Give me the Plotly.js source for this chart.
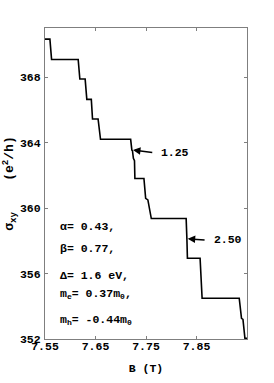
<!DOCTYPE html>
<html>
<head>
<meta charset="utf-8">
<script src="https://cdn.plot.ly/plotly-3.0.1.min.js"></script>
<style>html,body{margin:0;padding:0;background:#fff}#chart{width:274px;height:383px}</style>
</head>
<body>
<div id="chart"></div>
<script>
// Hall conductivity staircase
const fieldB = [7.5500, 7.5597, 7.5630, 7.6157, 7.6190, 7.6295, 7.6328, 7.6417, 7.6441, 7.6551, 7.6599,
                7.7196, 7.7220, 7.7232, 7.7250, 7.7262, 7.7272, 7.7280, 7.7459, 7.7493, 7.7537, 7.7605,
                7.8295, 7.8310, 7.8320, 7.8571, 7.8611, 7.9346, 7.9391, 7.9420, 7.9431, 7.9459, 7.9504];
const sigmaXY = [370.32, 370.32, 369.08, 369.08, 367.88, 367.88, 366.64, 366.64, 365.44, 365.44, 364.20,
                 364.20, 363.54, 363.50, 363.04, 363.00, 362.90, 361.81, 361.81, 360.59, 360.50, 359.36,
                 359.36, 358.10, 356.93, 356.93, 354.49, 354.49, 353.26, 353.20, 352.90, 352.04, 352.04];
const xTicks = [7.55, 7.65, 7.75, 7.85];
const yTicks = [352, 356, 360, 364, 368];
const stepLabels = ['1.25', '2.50'];
const stepArrowTip = [[7.7242, 363.54], [7.8326, 358.12]];
const stepArrowTail = [7.7624, 7.8660];
const stepLabelY = [363.40, 358.05];
const paramLines = ['α= 0.43,', 'β= 0.77,', 'Δ= 1.6 eV,',
                    'm<sub>e</sub>= 0.37m<sub>0</sub>,', 'm<sub>h</sub>= -0.44m<sub>0</sub>'];
const paramY = [358.86, 357.50, 355.88, 354.76, 353.18];

const FONT = 'Liberation Mono, DejaVu Sans Mono, monospace';
const FS = 11.5;
const annotations = [];
for (let i = 0; i < stepLabels.length; i++) {
  annotations.push({x: stepArrowTip[i][0], y: stepArrowTip[i][1], xref: 'x', yref: 'y',
    ax: stepArrowTail[i], ay: stepLabelY[i], axref: 'x', ayref: 'y',
    xanchor: 'left', yanchor: 'middle',
    text: '\u00A0' + stepLabels[i], showarrow: true, arrowhead: 2, arrowsize: 1, arrowwidth: 1.5,
    arrowcolor: '#000', font: {family: FONT, size: FS, color: '#000', weight: 'bold'}});
}
for (let i = 0; i < paramLines.length; i++) {
  annotations.push({x: 7.5756, y: paramY[i], xref: 'x', yref: 'y', xanchor: 'left',
    text: paramLines[i], showarrow: false, font: {family: FONT, size: FS, color: '#000', weight: 'bold'}});
}

const trace = {x: fieldB, y: sigmaXY, type: 'scatter', mode: 'lines',
  line: {color: '#000', width: 1.6}, hoverinfo: 'skip'};

const axisCommon = {showgrid: false, zeroline: false, showline: true, mirror: 'ticks',
  linecolor: '#7f7f7f', linewidth: 1, ticks: 'inside', ticklen: 3, tickcolor: '#7f7f7f',
  tickfont: {family: FONT, size: FS, color: '#000', weight: 'bold'}};

const layout = {
  width: 274, height: 383,
  margin: {l: 45, r: 27, t: 28, b: 44},
  paper_bgcolor: '#fff', plot_bgcolor: '#fff', showlegend: false,
  xaxis: Object.assign({}, axisCommon, {range: [7.55, 7.95], tickvals: xTicks,
    ticktext: xTicks.map(v => v.toFixed(2)), ticklabelstandoff: -4,
    title: {text: 'B (T)', font: {family: FONT, size: FS, color: '#000', weight: 'bold'}, standoff: 12}}),
  yaxis: Object.assign({}, axisCommon, {range: [352, 371], tickvals: yTicks,
    ticktext: yTicks.map(String), ticklabelstandoff: 1,
    title: {text: 'σ<sub>xy</sub>\u00A0\u00A0\u00A0\u00A0(e<sup>2</sup>/h)', font: {family: FONT, size: 13, color: '#000', weight: 'bold'}, standoff: 3}}),
  annotations: annotations
};

Plotly.newPlot('chart', [trace], layout, {staticPlot: true, displayModeBar: false});
</script>
</body>
</html>
